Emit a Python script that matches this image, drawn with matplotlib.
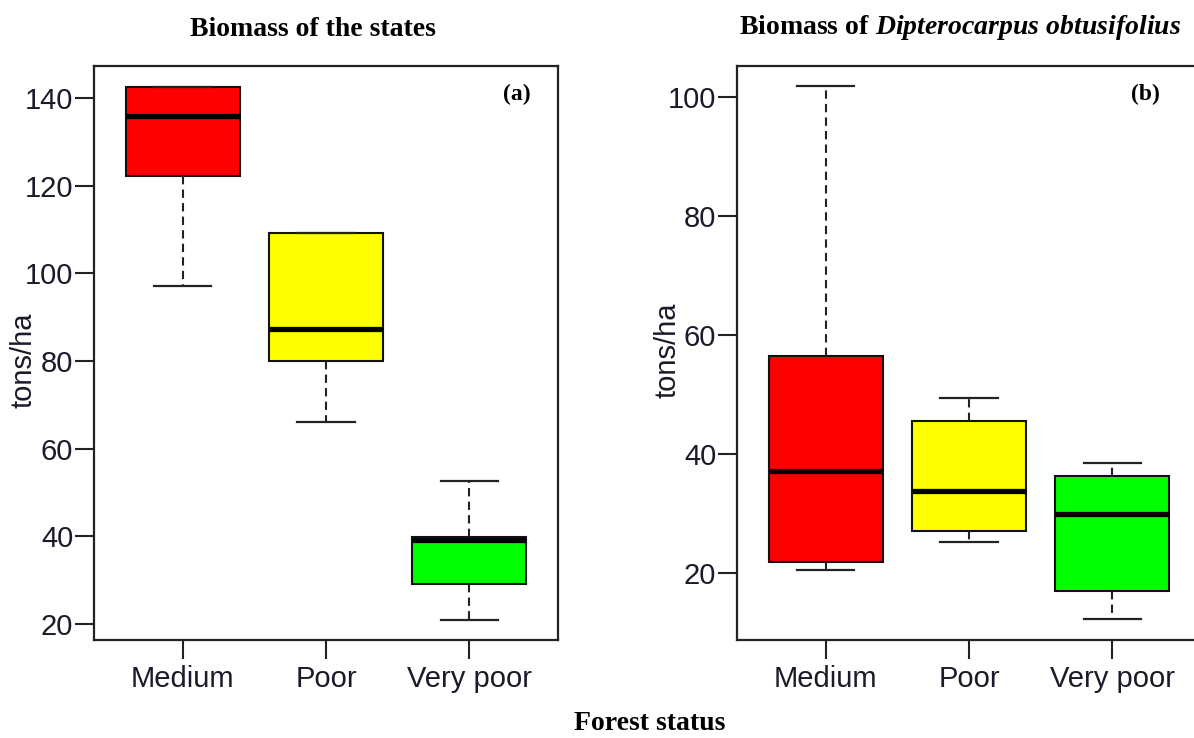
import matplotlib
matplotlib.use("Agg")
import matplotlib.pyplot as plt

plt.rcParams["mathtext.fontset"] = "custom"
plt.rcParams["mathtext.rm"] = "Liberation Serif:bold"
plt.rcParams["mathtext.it"] = "Liberation Serif:italic:bold"
plt.rcParams["mathtext.bf"] = "Liberation Serif:bold"

categories = ["Medium", "Poor", "Very poor"]
colors = ["#FF0000", "#FFFF00", "#00FF00"]

# Panel (a): Biomass of the states (tons/ha)
a_low = [97.1, 66.0, 20.9]
a_q1 = [122.2, 80.0, 29.2]
a_med = [135.9, 87.3, 39.2]
a_q3 = [142.6, 109.2, 39.8]
a_high = [142.6, 109.2, 52.6]

# Panel (b): Biomass of Dipterocarpus obtusifolius (tons/ha)
b_low = [20.5, 25.2, 12.2]
b_q1 = [21.8, 27.1, 16.9]
b_med = [37.1, 33.7, 29.8]
b_q3 = [56.5, 45.5, 36.2]
b_high = [101.8, 49.4, 38.5]

a_ticks = [20, 40, 60, 80, 100, 120, 140]
b_ticks = [20, 40, 60, 80, 100]

W, H = 1194, 738
fig = plt.figure(figsize=(W / 100, H / 100), dpi=100)

def px_axes(x0, x1, ytop, ybot):
    return fig.add_axes([x0 / W, 1 - ybot / H, (x1 - x0) / W, (ybot - ytop) / H])

ax1 = px_axes(94, 558, 66, 640)
ax2 = px_axes(737, 1201, 66, 640)

def draw(ax, low, q1, med, q3, high, ylim, ticks, tag, tagx, ylab_x, ylab_y):
    stats = []
    for i, c in enumerate(categories):
        stats.append(dict(label=c, whislo=low[i], q1=q1[i], med=med[i],
                          q3=q3[i], whishi=high[i], fliers=[]))
    bp = ax.bxp(stats, positions=[1, 2, 3], widths=0.8, patch_artist=True,
                showfliers=False,
                boxprops=dict(edgecolor="#111111", linewidth=1.5),
                medianprops=dict(color="black", linewidth=3.8, solid_capstyle="butt"),
                whiskerprops=dict(color="#222222", linewidth=1.5, linestyle=(0, (4, 2.5))),
                capprops=dict(color="#222222", linewidth=1.6),
                capwidths=0.4)
    for patch, col in zip(bp["boxes"], colors):
        patch.set_facecolor(col)
    ax.set_xlim(0.38, 3.62)
    ax.set_ylim(*ylim)
    ax.set_yticks(ticks)
    ax.set_xticks([1, 2, 3])
    ax.set_xticklabels(categories)
    for s in ax.spines.values():
        s.set_linewidth(1.6)
        s.set_color("#222222")
    ax.tick_params(axis="both", direction="out", length=14, width=1.5,
                   labelsize=21, pad=1, colors="#222222", labelcolor="#1a1a2a")
    ax.tick_params(axis="x", pad=4)
    for lbl in ax.get_xticklabels() + ax.get_yticklabels():
        lbl.set_fontfamily("Liberation Sans")
    fig.text(ylab_x / W, 1 - ylab_y / H, "tons/ha", rotation=90, ha="center",
             va="center", fontsize=21, family="Liberation Sans", color="#1a1a2a")
    ax.text(tagx, 0.968, tag, transform=ax.transAxes, ha="right", va="top",
            fontsize=17, fontweight="bold", family="Liberation Serif")

draw(ax1, a_low, a_q1, a_med, a_q3, a_high, (16.35, 147.3), a_ticks, "(a)", 0.94, 24, 360)
draw(ax2, b_low, b_q1, b_med, b_q3, b_high, (8.7, 105.2), b_ticks, "(b)", 0.912, 668, 350)

fig.text(313 / W, 1 - 30 / H, "Biomass of the states", ha="center", va="center",
         fontsize=20, fontweight="bold", family="Liberation Serif")
fig.text(960 / W, 1 - 27 / H,
         r"$\mathrm{Biomass\ of\ }\mathit{Dipterocarpus\ obtusifolius}$",
         ha="center", va="center", fontsize=20)
fig.text(650 / W, 1 - 723 / H, "Forest status", ha="center", va="center",
         fontsize=20, fontweight="bold", family="Liberation Serif")

fig.savefig("out.png", dpi=100)
